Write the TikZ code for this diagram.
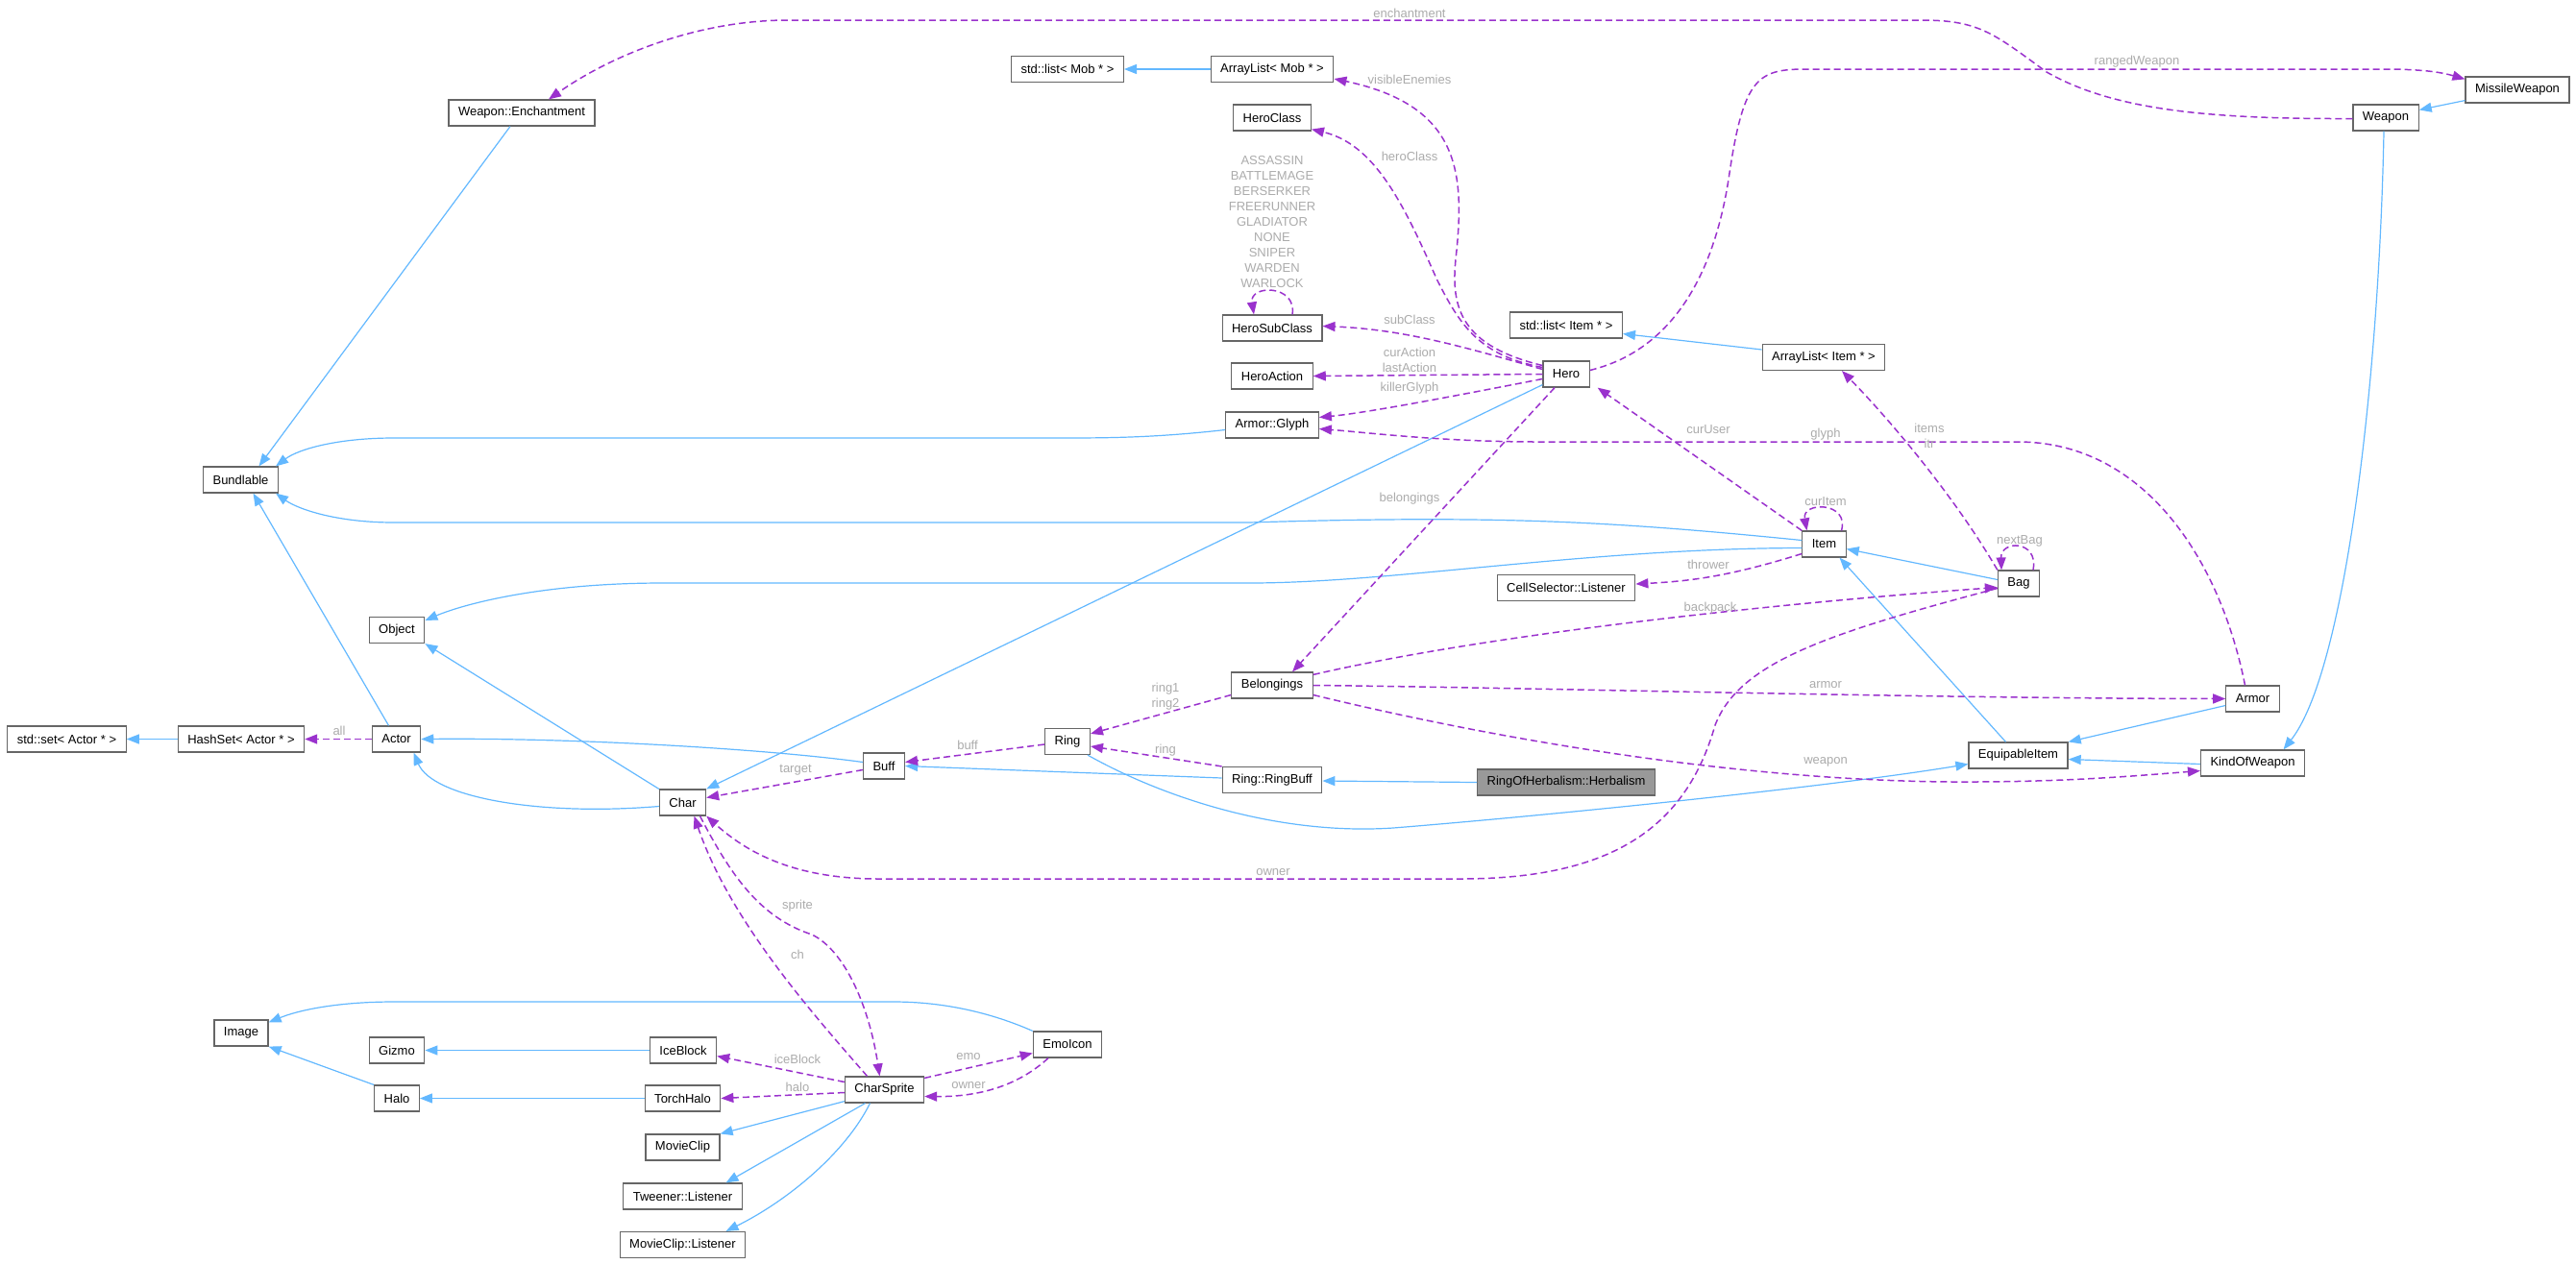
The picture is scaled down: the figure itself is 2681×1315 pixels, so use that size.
\documentclass[tikz,border=0pt]{standalone}
\usepackage{fontspec}
\setmainfont{Liberation Sans}
\usetikzlibrary{arrows.meta}
\definecolor{inhblue}{HTML}{63B8FF}
\definecolor{usepurple}{HTML}{9A32CD}
\definecolor{boxgray}{HTML}{666666}
\definecolor{lblgray}{HTML}{ABABAB}
\definecolor{maingray}{HTML}{999999}
\newcommand{\dfont}{\fontsize{13pt}{16pt}\selectfont}

\begin{document}
\begin{tikzpicture}[x=1pt,y=-1pt,
    cls/.style={draw=boxgray, fill=white, line width=1.2pt, minimum height=27pt,
      inner xsep=10pt, inner ysep=0pt, font=\dfont},
    inh/.style={draw=inhblue, line width=1.2pt, -{Triangle[length=13pt,width=10pt]}},
    use/.style={draw=usepurple, line width=1.5pt, dash pattern=on 7pt off 4pt,
      -{Triangle[length=13pt,width=10pt]}},
    lbl/.style={font=\dfont, text=lblgray, inner sep=0pt, align=center}]
  \useasboundingbox (0,0) rectangle (2681,1315);

  \node[cls] (wench) at (543,117.5) {Weapon::Enchantment};
  \node[cls] (stdlistmob) at (1111,72) {std::list< Mob * >};
  \node[cls] (alistmob) at (1324,72) {ArrayList< Mob * >};
  \node[cls] (heroclass) at (1324,122.5) {HeroClass};
  \node[cls] (herosub) at (1324,341.5) {HeroSubClass};
  \node[cls] (heroaction) at (1324,391.5) {HeroAction};
  \node[cls] (glyph) at (1324,442.5) {Armor::Glyph};
  \node[cls] (stdlistitem) at (1630,338.5) {std::list< Item * >};
  \node[cls] (hero) at (1630,389.5) {Hero};
  \node[cls] (missile) at (2620,93.5) {MissileWeapon};
  \node[cls] (weapon) at (2483,122.5) {Weapon};
  \node[cls] (alistitem) at (1898,372) {ArrayList< Item * >};
  \node[cls] (bundlable) at (250.5,499.5) {Bundlable};
  \node[cls] (object) at (413,656) {Object};
  \node[cls] (stdset) at (69.5,769.5) {std::set< Actor * >};
  \node[cls] (hashset) at (251,769.5) {HashSet< Actor * >};
  \node[cls] (actor) at (412.5,769.5) {Actor};
  \node[cls] (char) at (710.5,835.5) {Char};
  \node[cls] (cellsel) at (1630,612) {CellSelector::Listener};
  \node[cls] (belongings) at (1324,713.5) {Belongings};
  \node[cls] (ring) at (1111,772) {Ring};
  \node[cls] (buff) at (920,797.5) {Buff};
  \node[cls] (ringbuff) at (1324,812) {Ring::RingBuff};
  \node[cls, fill=maingray] (herbalism) at (1630,814.5) {RingOfHerbalism::Herbalism};
  \node[cls] (item) at (1898.5,566.5) {Item};
  \node[cls] (bag) at (2101,607.5) {Bag};
  \node[cls] (armor) at (2344.5,727.5) {Armor};
  \node[cls] (equip) at (2100.5,786.5) {EquipableItem};
  \node[cls] (kow) at (2344.5,794.5) {KindOfWeapon};
  \node[cls] (image) at (251,1075.5) {Image};
  \node[cls] (gizmo) at (413,1093.5) {Gizmo};
  \node[cls] (iceblock) at (711,1093.5) {IceBlock};
  \node[cls] (halo) at (413,1143.5) {Halo};
  \node[cls] (torchhalo) at (710.5,1143.5) {TorchHalo};
  \node[cls] (charsprite) at (920.5,1134.5) {CharSprite};
  \node[cls] (emoicon) at (1111,1087.5) {EmoIcon};
  \node[cls] (movieclip) at (710.5,1194.5) {MovieClip};
  \node[cls] (tweener) at (710.5,1245.5) {Tweener::Listener};
  \node[cls] (mclistener) at (710.5,1296) {MovieClip::Listener};

  % inheritance
  \draw[inh] (alistmob) -- (stdlistmob);
  \draw[inh] ([yshift=8pt]alistitem.west) -- ([yshift=-9pt]stdlistitem.east);
  \draw[inh] ([yshift=3pt]missile.south west) -- ([yshift=-6pt]weapon.north east);
  \draw[inh] ([xshift=-2pt]weapon.south) .. controls (2476,400) and (2440,700) .. ([xshift=32pt]kow.north);
  \draw[inh] ([xshift=-12pt]wench.south) -- ([xshift=19pt]bundlable.north);
  \draw[inh] ([yshift=-5pt]glyph.west) .. controls (1200,456) and (1150,456) .. (1100,456) -- (410,456)
    .. controls (350,456) and (310,468) .. ([xshift=-3pt]bundlable.north east);
  \draw[inh] ([yshift=4pt]item.west) .. controls (1680,543) and (1560,536) .. (1300,544) -- (410,544)
    .. controls (350,544) and (310,530) .. ([xshift=-3pt]bundlable.south east);
  \draw[inh] ([xshift=-8pt]actor.north) -- ([xshift=13pt]bundlable.south);
  \draw[inh] ([yshift=-4pt]item.west) .. controls (1650,571) and (1450,607) .. (1300,607) -- (690,607)
    .. controls (560,607) and (480,630) .. ([yshift=-4pt]object.north east);
  \draw[inh] (char.north west) -- (object.south east);
  \draw[inh] ([yshift=4pt]buff.west) .. controls (800,780) and (600,768) .. (actor.east);
  \draw[inh] ([yshift=-4pt]char.west) .. controls (560,850) and (450,830) .. ([xshift=18pt]actor.south);
  \draw[inh] ([yshift=3pt]hero.south west) -- (char.north east);
  \draw[inh] (hashset) -- (stdset);
  \draw[inh] ([yshift=2pt]ringbuff.west) -- (buff.east);
  \draw[inh] (herbalism.west) -- ([yshift=-1pt]ringbuff.east);
  \draw[inh] ([xshift=-3pt]ring.south east) .. controls (1210,830) and (1330,870) .. (1450,862)
    .. controls (1600,850) and (1900,820) .. ([yshift=-9pt]equip.west);
  \draw[inh] ([xshift=-13pt]equip.north) -- ([xshift=16pt]item.south);
  \draw[inh] ([yshift=4pt]bag.west) -- ([yshift=-5pt]item.east);
  \draw[inh] ([yshift=-7pt]armor.west) -- (equip.north east);
  \draw[inh] ([yshift=-1pt]kow.west) -- ([yshift=-4pt]equip.east);
  \draw[inh] (emoicon.north west) .. controls (1040,1058) and (990,1043) .. (930,1043) -- (410,1043)
    .. controls (350,1043) and (310,1052) .. ([yshift=-3pt]image.north east);
  \draw[inh] (halo.north west) -- (image.south east);
  \draw[inh] (iceblock) -- (gizmo);
  \draw[inh] (torchhalo) -- (halo);
  \draw[inh] ([yshift=2pt]charsprite.south west) -- (movieclip.north east);
  \draw[inh] ([xshift=-20pt]charsprite.south) -- ([xshift=45pt]tweener.north);
  \draw[inh] ([xshift=-15pt]charsprite.south) .. controls (880,1200) and (820,1250) .. ([xshift=45pt]mclistener.north);

  % usage
  \draw[use] ([yshift=-1pt]weapon.west) .. controls (2300,124) and (2200,115) .. (2130,75)
    .. controls (2075,35) and (2060,21) .. (2000,21) -- (820,21)
    .. controls (730,21) and (640,55) .. ([xshift=28pt]wench.north);
  \draw[use] ([yshift=9pt]hero.west) .. controls (1520,360) and (1510,320) .. (1515,270)
    .. controls (1525,180) and (1520,110) .. ([yshift=-10pt]alistmob.east);
  \draw[use] ([yshift=7pt]hero.west) .. controls (1540,370) and (1520,340) .. (1495,290)
    .. controls (1460,210) and (1430,150) .. ([yshift=2pt]heroclass.south east);
  \draw[use] ([yshift=5pt]hero.west) .. controls (1520,360) and (1460,343) .. ([yshift=2pt]herosub.east);
  \draw[use] ([xshift=21pt]herosub.north) .. controls (1350,296) and (1300,296) .. ([xshift=-19pt]herosub.north);
  \draw[use] (hero.west) -- (heroaction.east);
  \draw[use] ([yshift=-5pt]hero.west) .. controls (1500,415) and (1420,430) .. ([yshift=8pt]glyph.east);
  \draw[use] ([yshift=4pt]hero.east) .. controls (1760,360) and (1790,250) .. (1800,180)
    .. controls (1815,80) and (1830,72) .. (1880,72) -- (2480,72)
    .. controls (2520,72) and (2540,75) .. ([yshift=-3pt]missile.north west);
  \draw[use] ([xshift=-12pt]hero.south) -- ([xshift=21pt]belongings.north);
  \draw[use] (item.north west) -- ([xshift=8pt]hero.south east);
  \draw[use] ([xshift=-8pt]armor.north) .. controls (2310,580) and (2230,460) .. (2100,460) -- (1600,460)
    .. controls (1500,460) and (1420,450) .. ([yshift=-4pt]glyph.east);
  \draw[use] (bag.north west) .. controls (2030,510) and (1960,430) .. ([xshift=19pt]alistitem.south);
  \draw[use] ([xshift=18pt]item.north) .. controls (1925,522) and (1875,522) .. ([xshift=-18pt]item.north);
  \draw[use] ([xshift=15pt]bag.north) .. controls (2122,562) and (2082,562) .. ([xshift=-18pt]bag.north);
  \draw[use] ([yshift=-10pt]item.west) .. controls (1800,600) and (1760,605) .. ([yshift=4pt]cellsel.east);
  \draw[use] ([yshift=-3pt]belongings.north east) .. controls (1550,660) and (1850,628) .. ([yshift=-4pt]bag.west);
  \draw[use] (belongings.east) .. controls (1600,716) and (2000,727) .. (armor.west);
  \draw[use] ([yshift=-10pt]belongings.east) .. controls (1600,780) and (1850,815) .. (2050,814)
    .. controls (2150,814) and (2220,808) .. ([yshift=-8pt]kow.west);
  \draw[use] ([yshift=-10pt]belongings.west) -- ([yshift=-6pt]ring.north east);
  \draw[use] ([yshift=-3pt]ring.west) -- ([yshift=4pt]buff.east);
  \draw[use] (ringbuff.north west) -- ([yshift=-5pt]ring.east);
  \draw[use] ([yshift=-4pt]buff.west) -- ([yshift=5pt]char.east);
  \draw[use] (actor) -- (hashset);
  \draw[use] ([yshift=-5pt]bag.west) .. controls (1900,660) and (1810,690) .. (1785,755)
    .. controls (1755,860) and (1680,915) .. (1520,915) -- (915,915)
    .. controls (830,915) and (780,890) .. (char.south east);
  \draw[use] ([xshift=18pt]char.south) .. controls (760,910) and (790,955) .. (845,973)
    .. controls (880,990) and (905,1050) .. ([xshift=-5pt]charsprite.north);
  \draw[use] ([xshift=-18pt]charsprite.north) .. controls (850,1060) and (760,960) .. ([xshift=12pt]char.south);
  \draw[use] ([yshift=8pt]charsprite.west) -- ([yshift=-6pt]iceblock.east);
  \draw[use] ([yshift=-3pt]charsprite.west) -- (torchhalo.east);
  \draw[use] ([yshift=-2pt]charsprite.north east) -- ([yshift=-9pt]emoicon.west);
  \draw[use] ([xshift=-20pt]emoicon.south) .. controls (1060,1130) and (1020,1142) .. ([yshift=-7pt]charsprite.east);

  % labels
  \node[lbl] at (1467,14) {enchantment};
  \node[lbl] at (1467,83) {visibleEnemies};
  \node[lbl] at (1467,163) {heroClass};
  \node[lbl] at (1324,231) {ASSASSIN\\BATTLEMAGE\\BERSERKER\\FREERUNNER\\GLADIATOR\\NONE\\SNIPER\\WARDEN\\WARLOCK};
  \node[lbl] at (1467,333) {subClass};
  \node[lbl] at (1467,375) {curAction\\lastAction};
  \node[lbl] at (1467,404) {killerGlyph};
  \node[lbl] at (2224,64) {rangedWeapon};
  \node[lbl] at (1467,519) {belongings};
  \node[lbl] at (1778,447) {curUser};
  \node[lbl] at (1900,452) {glyph};
  \node[lbl] at (2008,454) {items\\itr};
  \node[lbl] at (1900,522) {curItem};
  \node[lbl] at (2102,563) {nextBag};
  \node[lbl] at (1778,588) {thrower};
  \node[lbl] at (1780,633) {backpack};
  \node[lbl] at (1900,713) {armor};
  \node[lbl] at (1900,793) {weapon};
  \node[lbl] at (1213,725) {ring1\\ring2};
  \node[lbl] at (1007,776) {buff};
  \node[lbl] at (1213,781) {ring};
  \node[lbl] at (828,802) {target};
  \node[lbl] at (353,761) {all};
  \node[lbl] at (1325,908) {owner};
  \node[lbl] at (830,943) {sprite};
  \node[lbl] at (830,994) {ch};
  \node[lbl] at (830,1103) {iceBlock};
  \node[lbl] at (830,1132) {halo};
  \node[lbl] at (1008,1100) {emo};
  \node[lbl] at (1008,1130) {owner};
\end{tikzpicture}
\end{document}
